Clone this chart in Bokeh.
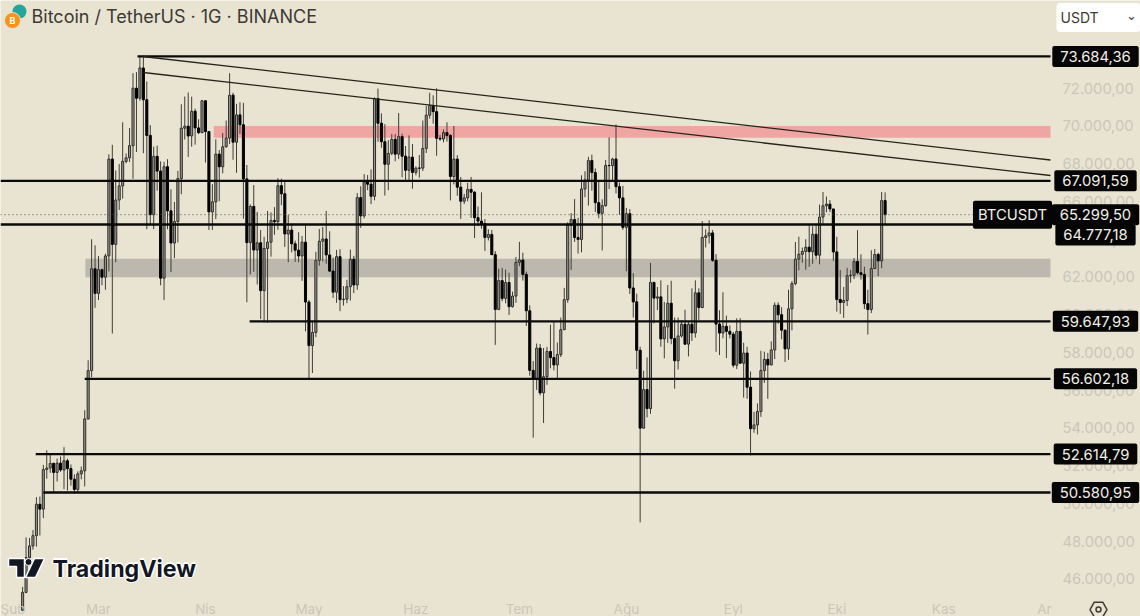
import pandas as pd
from bokeh.embed import file_html
from bokeh.models import ColumnDataSource, FixedTicker, Label
from bokeh.plotting import figure
from bokeh.resources import INLINE

BG = "#e9e4d2"
AXIS_TEXT = "#c9c6ba"
FONT = "Inter"

# daily candles, 8 Feb -> 15 Oct
opens = [
    44340, 45288, 47132, 47751, 48293, 49958, 49699, 51795, 51880, 52124, 51642, 52137, 51774, 52258, 51849, 51288, 50744, 51568, 51728, 54476, 57037, 62432,
    61130, 62387, 61987, 63113, 68245, 63724, 66074, 66823, 68124, 68313, 68955, 72000, 71470, 73072, 71388, 69499, 65300, 68390, 67610, 61937, 67840, 65501, 63796, 64938, 67211, 69880, 69988, 69469, 70780, 69897, 69645,
    71333, 69702, 65446, 65980, 68508, 67837, 68896, 69360, 71631, 69139, 70587, 70060, 67195, 63821, 65738, 63426, 63811, 61276, 63512, 63843, 64994, 64926, 66837, 66407, 64276, 64481, 63755, 63419, 63113, 63842,
    60672, 58364, 59060, 62882, 63892, 64012, 63165, 62312, 61193, 63074, 60799, 60825, 61484, 62940, 61577, 66206, 65235, 67024, 66915, 66274, 71446, 70148, 69166, 67969, 68549, 69290, 68507, 69436, 68398, 67652, 68352,
    67540, 67766, 67765, 68809, 70568, 71082, 70757, 69342, 69306, 69648, 69499, 67321, 68243, 66756, 66011, 66191, 66639, 66490, 65140, 64960, 64828, 64096, 64252, 63180, 60277, 61806, 60864, 61706, 60427, 60986,
    62772, 62899, 62135, 60208, 57050, 56628, 58230, 55857, 56714, 58051, 57725, 57339, 57889, 59204, 60797, 64724, 65043, 64087, 63987, 66660, 67139, 68165, 67532, 65936, 65372, 65777, 67907, 67896, 68249, 66784, 66188,
    64628, 65354, 61415, 60680, 58116, 53991, 56034, 55027, 61710, 60880, 60945, 58719, 59354, 60609, 58738, 57560, 58874, 59493, 58439, 59494, 59034, 61159, 60381, 64094, 64178, 64333, 62880, 59504, 59027, 59388, 59119,
    58969, 57325, 59112, 57431, 57971, 56160, 53962, 54160, 54869, 57042, 57635, 57338, 58132, 60498, 60000, 59182, 58192, 60309, 61649, 62941, 63201, 63349, 63578, 63339, 64262, 63152, 65173, 65769, 65858, 65603,
    63327, 60805, 60649, 60754, 62067, 62089, 62818, 62224, 62131, 60582, 60274, 62445, 63193, 62851, 66046,
]
highs = [
    45580, 48200, 48170, 48592, 50334, 50368, 52043, 52816, 52572, 52162, 52377, 52488, 52985, 52371, 52065, 51548, 51698, 51958, 54938, 57588, 64000, 63676,
    63114, 62433, 63231, 68499, 69000, 67641, 67980, 70194, 68541, 69887, 72800, 72850, 73650, 73684, 72357, 70043, 68904, 68956, 68124, 68100, 68240, 66649, 65973, 67622, 71150, 71561, 71769, 71552, 70916, 70354, 71377,
    71366, 69708, 66914, 69291, 68725, 69629, 70284, 72797, 71758, 71172, 71256, 71227, 67932, 65840, 66867, 65450, 64486, 64125, 65500, 65419, 65700, 67233, 67200, 67075, 65275, 64792, 63923, 64370, 64174, 64735,
    60780, 59625, 63333, 64544, 64646, 65500, 64422, 63020, 63429, 63469, 61515, 61850, 63450, 63118, 66444, 66800, 67451, 67400, 67700, 71515, 71980, 70666, 70096, 69250, 69562, 69562, 70687, 69591, 68935, 69500, 69044,
    67857, 68460, 70288, 71063, 71758, 71625, 71997, 69520, 69817, 70195, 69563, 69999, 68449, 67294, 66402, 66992, 67298, 66556, 65732, 66482, 65067, 64525, 64491, 63369, 62435, 62480, 62389, 62225, 61224, 63058,
    63861, 63288, 62285, 60498, 57546, 58475, 58449, 58236, 58296, 59470, 59650, 58526, 59850, 61420, 64900, 65388, 66128, 65133, 67386, 67598, 68366, 68480, 67750, 67102, 66112, 68200, 69399, 68318, 70079, 67000, 66832,
    65659, 65596, 62198, 61117, 58305, 57029, 57736, 62745, 61744, 61470, 61818, 60680, 61572, 61800, 59849, 59850, 59700, 60263, 59617, 61396, 61820, 61400, 64955, 64522, 65000, 64491, 63210, 60236, 61190, 59950, 59432,
    59080, 59810, 59815, 58519, 58300, 56995, 54850, 55300, 58088, 58044, 57981, 58588, 60648, 60654, 60400, 59210, 61320, 61786, 63850, 64133, 63559, 64000, 64745, 64688, 64817, 65839, 66498, 66260, 66076, 65603,
    64130, 62370, 61472, 62484, 62370, 63000, 64478, 63200, 62543, 61320, 63417, 63480, 63285, 66500, 66480,
]
lows = [
    44300, 45242, 46800, 47550, 47710, 48300, 49225, 51314, 51625, 50625, 51163, 51677, 50760, 50686, 50940, 50521, 50585, 51279, 50901, 54450, 56691, 60364,
    60777, 61561, 61320, 62300, 59005, 62779, 65550, 66150, 68020, 68094, 67194, 68620, 71333, 68555, 64533, 64780, 64533, 66565, 61555, 60775, 64529, 62260, 63000, 63825, 66385, 69280, 68359, 68903, 69009, 69565, 69624,
    68062, 64486, 64493, 65064, 66011, 67491, 68851, 69043, 68210, 67518, 69571, 65086, 60660, 62134, 62274, 61600, 59768, 59600, 59560, 63074, 64233, 64500, 65800, 63589, 62783, 63300, 62793, 62781, 61795, 59120,
    56552, 56911, 58811, 62599, 62822, 62700, 62261, 60888, 60630, 60187, 60487, 60610, 60749, 61142, 61319, 64600, 65106, 66600, 65857, 66060, 69162, 68842, 66312, 66600, 68450, 68128, 68245, 67277, 67124, 67128, 66670,
    67386, 67257, 67613, 68567, 70383, 70119, 68420, 69210, 69130, 69172, 66051, 66902, 66304, 65078, 65858, 66000, 65130, 64066, 64693, 64559, 63379, 63929, 63178, 58402, 60239, 60712, 60606, 59985, 60383, 60632,
    62571, 61806, 59400, 56771, 53485, 56018, 55724, 54260, 56289, 57157, 57050, 56542, 57756, 59194, 60632, 62373, 63854, 63238, 63300, 66222, 65777, 66573, 65441, 65111, 63400, 65722, 66650, 67066, 66428, 65302, 64493,
    62302, 61100, 59850, 57122, 49000, 53962, 54558, 54750, 59535, 60242, 58302, 57688, 58506, 58433, 56078, 57098, 58785, 58409, 57787, 58610, 58783, 59724, 60345, 63566, 63773, 62800, 58034, 57860, 58755, 57703, 58746,
    57201, 57120, 57410, 55606, 55550, 52550, 53745, 53653, 54591, 56386, 55545, 57324, 57650, 59517, 58696, 57493, 57610, 59174, 61555, 62350, 62758, 62380, 62538, 62700, 62947, 62670, 64819, 65422, 65432, 62856,
    60164, 60044, 59828, 60460, 61689, 61890, 62128, 61860, 60300, 58946, 60087, 62445, 62044, 62457, 64800,
]
closes = [
    45288, 47132, 47751, 48293, 49958, 49699, 51795, 51880, 52124, 51642, 52137, 51774, 52258, 51849, 51288, 50744, 51568, 51728, 54476, 57037, 62432, 61130,
    62387, 61987, 63113, 68245, 63724, 66074, 66823, 68124, 68313, 68955, 72000, 71470, 73072, 71388, 69499, 65300, 68390, 67610, 61937, 67840, 65501, 63796, 64938, 67211, 69880, 69988, 69469, 70780, 69897, 69645, 71333,
    69702, 65446, 65980, 68508, 67837, 68896, 69360, 71631, 69139, 70587, 70060, 67195, 63821, 65738, 63426, 63811, 61276, 63512, 63843, 64994, 64926, 66837, 66407, 64276, 64481, 63755, 63419, 63113, 63842, 60672,
    58364, 59060, 62882, 63892, 64012, 63165, 62312, 61193, 63074, 60799, 60825, 61484, 62940, 61577, 66206, 65235, 67024, 66915, 66274, 71446, 70148, 69166, 67969, 68549, 69290, 68507, 69436, 68398, 67652, 68352, 67540,
    67766, 67765, 68809, 70568, 71082, 70757, 69342, 69306, 69648, 69499, 67321, 68243, 66756, 66011, 66191, 66639, 66490, 65140, 64960, 64828, 64096, 64252, 63180, 60277, 61806, 60864, 61706, 60427, 60986, 62772,
    62899, 62135, 60208, 57050, 56628, 58230, 55857, 56714, 58051, 57725, 57339, 57889, 59204, 60797, 64724, 65043, 64087, 63987, 66660, 67139, 68165, 67532, 65936, 65372, 65777, 67907, 67896, 68249, 66784, 66188, 64628,
    65354, 61415, 60680, 58116, 53991, 56034, 55027, 61710, 60880, 60945, 58719, 59354, 60609, 58738, 57560, 58874, 59493, 58439, 59494, 59034, 61159, 60381, 64094, 64178, 64333, 62880, 59504, 59027, 59388, 59119, 58969,
    57325, 59112, 57431, 57971, 56160, 53962, 54160, 54869, 57042, 57635, 57338, 58132, 60498, 60000, 59182, 58192, 60309, 61649, 62941, 63201, 63349, 63578, 63339, 64262, 63152, 65173, 65769, 65858, 65603, 63327,
    60805, 60649, 60754, 62067, 62089, 62818, 62224, 62131, 60582, 60274, 62445, 63193, 62851, 66046, 65299.5,
]

# horizontal levels: price, first day index (None = from the left edge)
level_prices = [73684.36, 67091.59, 64777.18, 59647.93, 56602.18, 52614.79, 50580.95]
level_starts = [33.3, None, None, 65.8, 18, 3.8, 6]
level_labels = ["73.684,36", "67.091,59", "64.777,18", "59.647,93", "56.602,18", "52.614,79", "50.580,95"]
# where the scale tags sit: 64.777 is pushed down below the last price tag
level_tag_prices = [73684.36, 67091.59, 64228, 59647.93, 56602.18, 52614.79, 50580.95]
last_price = 65299.5
last_label = "65.299,50"

# two falling trendlines: start day, start price, end price
trend_start_days = [34.8, 35]
trend_start_prices = [73679, 72832]
trend_end_prices = [68196, 67375]

# shaded zones: first day, top price, bottom price
zone_starts = [55.4, 18.2]
zone_tops = [70000, 62960]
zone_bottoms = [69370, 61990]
zone_colors = ["#efa6a3", "#bcb8ad"]

price_ticks = [46000, 48000, 50000, 52000, 54000, 56000, 58000, 60000, 62000, 64000, 66000, 68000, 70000, 72000]
month_days = [-6.4, 22, 53, 83, 114, 144, 175, 206, 236, 267, 296.2]
month_names = ["Şub", "Mar", "Nis", "May", "Haz", "Tem", "Ağu", "Eyl", "Eki", "Kas", "Ar"]

# the frame fills the page, the axes sit inside it
X_START, X_END = -6.41, 324.03
Y_START, Y_END = 44011.0, 76646.4
PRICE_AXIS_X = 297.94
MONTH_AXIS_Y = 45260.0
LAST_LINE_END = 275.9

df = pd.DataFrame({"open": opens, "high": highs, "low": lows, "close": closes})
df["day"] = df.index
up = ColumnDataSource(df[df.close >= df.open])
down = ColumnDataSource(df[df.close < df.open])
wicks = ColumnDataSource(df)

p = figure(width=1140, height=616, x_range=(X_START, X_END), y_range=(Y_START, Y_END),
           x_axis_location="below", y_axis_location="right",
           output_backend="svg", toolbar_location=None,
           min_border_left=0, min_border_top=0, min_border_right=0, min_border_bottom=0,
           background_fill_color=BG, border_fill_color=BG, outline_line_color=None)
p.grid.visible = False


def px_x(x):
    return X_START + x / 1140 * (X_END - X_START)


def px_y(y):
    return Y_END - y / 616 * (Y_END - Y_START)


# === Axes === #
p.yaxis.ticker = FixedTicker(ticks=price_ticks)
p.yaxis.major_label_overrides = {t: f"{t // 1000}.000,00" for t in price_ticks}
p.yaxis.fixed_location = PRICE_AXIS_X
p.xaxis.ticker = FixedTicker(ticks=month_days)
p.xaxis.major_label_overrides = dict(zip(month_days, month_names))
p.xaxis.fixed_location = MONTH_AXIS_Y
for ax in (p.xaxis, p.yaxis):
    ax.axis_line_color = None
    ax.major_tick_line_color = None
    ax.minor_tick_line_color = None
    ax.major_label_text_color = AXIS_TEXT
    ax.major_label_text_font = FONT
p.yaxis.major_label_text_font_size = "14.8px"
p.yaxis.major_label_standoff = 6
p.xaxis.major_label_text_font_size = "13.5px"
p.xaxis.major_label_standoff = 2

# === Zones === #
for start, top, bottom, color in zip(zone_starts, zone_tops, zone_bottoms, zone_colors):
    p.quad(left=[start], right=[PRICE_AXIS_X], top=[top], bottom=[bottom], fill_color=color, line_color=None)

# === Candles === #
p.segment(x0="day", y0="high", x1="day", y1="low", line_color="#3f3d37", line_width=1, source=wicks)
p.vbar(x="day", width=0.6, top="close", bottom="open", fill_color="#97958d", line_color="#2f2e2a", line_width=1, source=up)
p.vbar(x="day", width=0.6, top="open", bottom="close", fill_color="#000000", line_color="#000000", line_width=1, source=down)

# === Levels and trendlines === #
p.line([X_START, LAST_LINE_END], [last_price, last_price], line_color="#4a4942", line_width=1, line_dash=[1, 3])
for price, start in zip(level_prices, level_starts):
    p.line([X_START if start is None else start, PRICE_AXIS_X], [price, price], line_color="#0a0a08", line_width=2.4)
for day, start_price, end_price in zip(trend_start_days, trend_start_prices, trend_end_prices):
    p.line([day, PRICE_AXIS_X], [start_price, end_price], line_color="#26251c", line_width=1.3)


def price_tag(text, price, x=1095, padding=(8, 5)):
    p.add_layout(Label(x=x, y=price, x_units="screen", y_units="data", text=text, text_color="#f1efe6",
                       text_font=FONT, text_font_size="14.8px", text_align="center", text_baseline="middle",
                       background_fill_color="#050505", padding=padding, border_radius=2))


for price, text in zip(level_tag_prices, level_labels):
    price_tag(text, price)
price_tag(last_label, last_price)
price_tag("BTCUSDT", last_price, x=1012, padding=(5, 5))


def page_label(x, y, text, color="#3b3a35", font=FONT, size="14px", align="left", **kw):
    # x, y in page pixels from the top left
    p.add_layout(Label(x=x, y=616 - y, x_units="screen", y_units="screen", text=text, text_color=color,
                       text_font=font, text_font_size=size, text_align=align, text_baseline="middle", **kw))


# === Header === #
p.scatter([px_x(19)], [px_y(11)], size=14, marker="circle", fill_color="#26a69a", line_color=None)
p.scatter([px_x(12)], [px_y(20)], size=16, marker="circle", fill_color="#f7931a", line_color=BG)
page_label(12, 20, "B", color="#ffffff", size="9px", align="center", text_font_style="bold")
page_label(31, 16, "Bitcoin / TetherUS · 1G · BINANCE", size="18px")
page_label(1056, 17, "USDT", background_fill_color="#ffffff", padding=(4, 42, 6, 6), border_radius=4)
page_label(1131, 15, "⌄", font="DejaVu Sans", size="13px", align="center")

# === Watermark === #
tv_bar_x = [8, 24, 24, 16, 16, 8]
tv_bar_y = [558, 558, 577, 577, 566, 566]
tv_slash_x = [34, 44, 35, 25]
tv_slash_y = [558, 558, 577, 577]
for dx, dy in [(-1.5, 0), (1.5, 0), (0, -1.5), (0, 1.5)]:
    page_label(52 + dx, 568 + dy, "TradingView", color="#ffffff", size="23.2px", text_font_style="bold")
for xs, ys, line in [(tv_bar_x, tv_bar_y, "#ffffff"), (tv_slash_x, tv_slash_y, "#ffffff")]:
    p.patch([px_x(v) for v in xs], [px_y(v) for v in ys], fill_color="#131722", line_color=line, line_width=1.5)
p.scatter([px_x(28)], [px_y(561.5)], size=7, marker="circle", fill_color="#131722", line_color="#ffffff")
page_label(52, 568, "TradingView", color="#131722", size="23.2px", text_font_style="bold")

# === Settings icon === #
p.scatter([px_x(1098)], [px_y(609)], size=17, marker="hex", fill_color=None, line_color="#3b3a35", line_width=1.5)
p.scatter([px_x(1098)], [px_y(609)], size=5, marker="circle", fill_color=None, line_color="#3b3a35", line_width=1.5)

open("out.html", "w").write(file_html(p, INLINE))
